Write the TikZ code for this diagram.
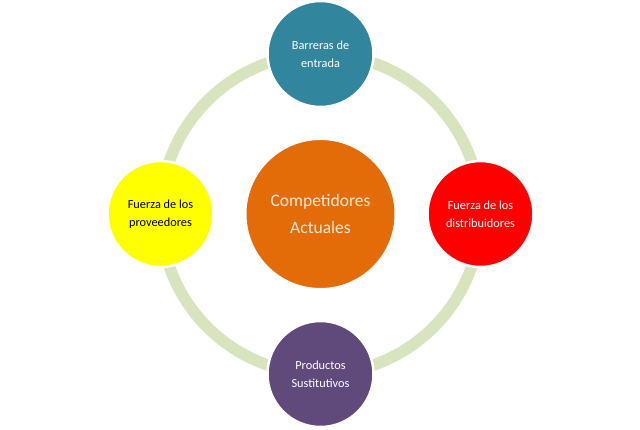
\documentclass[tikz,border=0pt]{standalone}
\usepackage{fontspec}
\setmainfont{Carlito}
\definecolor{ringgreen}{HTML}{D7E4BD}
\definecolor{topc}{HTML}{31859C}
\definecolor{leftc}{HTML}{FFFF00}
\definecolor{rightc}{HTML}{FF0000}
\definecolor{botc}{HTML}{604A7B}
\definecolor{centc}{HTML}{E36C09}
\definecolor{centtext}{HTML}{FDEADA}
\tikzset{
  sat/.style={circle, draw=white, line width=2.5pt, minimum size=106pt, inner sep=0pt, align=center, font=\fontsize{12.3}{18}\selectfont},
  core/.style={circle, draw=white, line width=2pt, minimum size=150pt, inner sep=0pt, align=center, font=\fontsize{17.5}{27}\selectfont},
  ringline/.style={draw=ringgreen, line width=11.5pt}
}
\begin{document}
\begin{tikzpicture}[x=1pt,y=-1pt]
\useasboundingbox (0,0) rectangle (640,429);
\fill[white] (0,0) rectangle (640,429);
\coordinate (c) at (320.5,214);
\draw[ringline] (c) circle[radius=160];
\node[core, fill=centc, text=centtext] (core) at (c) {Competidores\\Actuales};
\node[sat, fill=topc, text=white] (top) at (320.5,54) {Barreras de\\entrada};
\node[sat, fill=rightc, text=white] (right) at (480.5,214) {Fuerza de los\\distribuidores};
\node[sat, fill=botc, text=white] (bot) at (320.5,374) {Productos\\Sustitutivos};
\node[sat, fill=leftc, text=black] (left) at (160.5,214) {Fuerza de los\\proveedores};
\end{tikzpicture}
\end{document}
